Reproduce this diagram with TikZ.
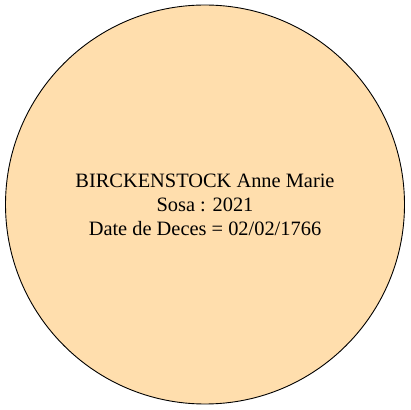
\documentclass[tikz,border=0pt]{standalone}
\usepackage{fontspec}
\setmainfont{Liberation Serif}
\definecolor{peach1}{RGB}{255, 222, 173}
\usepackage{tikz}
\usetikzlibrary{shapes, positioning}

\begin{document}
\begin{tikzpicture}[x=1pt, y=1pt]
  \useasboundingbox (0,0) rectangle (410,410);
  \node[circle, draw=black, fill=peach1, line width=0.9pt, minimum size=399pt, inner sep=0pt, align=center, font=\fontsize{20.4}{24}\selectfont] (person) at (205,205.5) {
    BIRCKENSTOCK Anne Marie\\
    Sosa : 2021\\
    Date de Deces = 02/02/1766
  };
\end{tikzpicture}
\end{document}
